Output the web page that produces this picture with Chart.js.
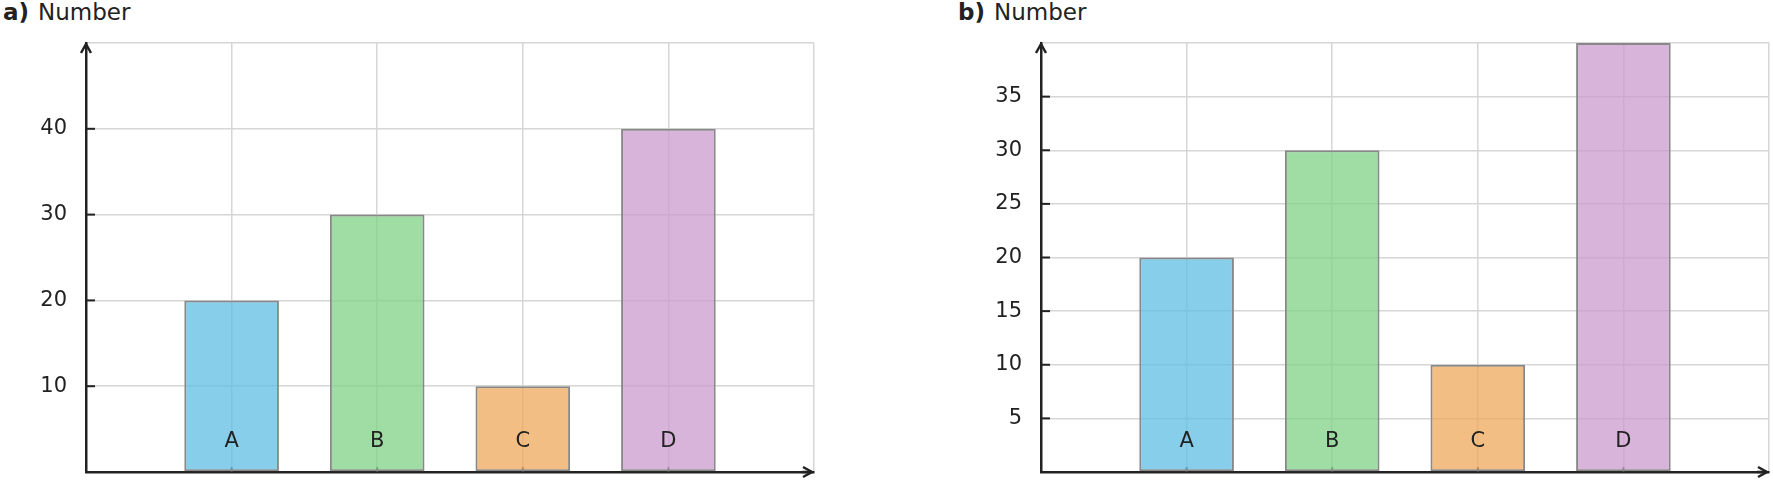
<!DOCTYPE html>
<html>
<head>
<meta charset="utf-8">
<script src="https://cdn.jsdelivr.net/npm/chart.js@4.4.1/dist/chart.umd.min.js"></script>
<style>
  html, body { margin: 0; padding: 0; background: #fff; }
  body { width: 1773px; height: 480px; position: relative; overflow: hidden; font-family: 'DejaVu Sans', sans-serif; color: #222; }
  .title { position: absolute; top: 1px; font-size: 23px; line-height: 23px; white-space: nowrap; }
  .title b { font-weight: bold; margin-right: 9px; }
  canvas { position: absolute; top: 0; }
</style>
</head>
<body>
<div class="title" style="left:3px"><b>a)</b>Number</div>
<div class="title" style="left:958px"><b>b)</b>Number</div>
<canvas id="ca" width="820" height="480" style="left:0px"></canvas>
<canvas id="cb" width="818" height="480" style="left:955px"></canvas>
<script>
// ---- data ----
const categories = ['A', 'B', 'C', 'D'];
const valuesA = [20, 30, 10, 40];
const valuesB = [20, 30, 10, 40];
const yMaxA = 50, yStepA = 10;
const yMaxB = 40, yStepB = 5;
const barColors = ['rgba(95,190,228,0.75)', 'rgba(128,210,135,0.75)', 'rgba(239,168,90,0.75)', 'rgba(203,155,207,0.75)'];

Chart.defaults.font.family = "'DejaVu Sans', sans-serif";
Chart.defaults.color = '#222';

const AX = '#222';

const axisDecor = {
  id: 'axisDecor',
  beforeDatasetsDraw(chart) {
    const { ctx, scales: { x, y } } = chart;
    ctx.save();
    ctx.strokeStyle = '#444';
    ctx.lineWidth = 2;
    categories.forEach((c, i) => {
      const px = x.getPixelForValue(i);
      ctx.beginPath();
      ctx.moveTo(px, y.bottom);
      ctx.lineTo(px, y.bottom - 5);
      ctx.stroke();
    });
    ctx.restore();
  },
  afterDatasetsDraw(chart) {
    const { ctx, scales: { x, y } } = chart;
    ctx.save();
    // inward y tick marks
    ctx.strokeStyle = AX;
    ctx.lineWidth = 2;
    y.ticks.forEach(t => {
      if (t.value <= y.min || t.value >= y.max) return;
      const py = y.getPixelForValue(t.value);
      ctx.beginPath();
      ctx.moveTo(x.left, py);
      ctx.lineTo(x.left + 9, py);
      ctx.stroke();
    });
    // category labels inside the plot
    ctx.fillStyle = '#222';
    ctx.font = "21px 'DejaVu Sans'";
    ctx.textAlign = 'center';
    ctx.textBaseline = 'middle';
    categories.forEach((c, i) => {
      ctx.fillText(c, x.getPixelForValue(i), y.bottom - 30);
    });
    // arrows
    ctx.lineWidth = 2.5;
    ctx.lineCap = 'butt';
    ctx.lineJoin = 'miter';
    ctx.beginPath();
    ctx.moveTo(x.left - 5, y.top + 10);
    ctx.lineTo(x.left, y.top + 1);
    ctx.lineTo(x.left + 5, y.top + 10);
    ctx.stroke();
    ctx.beginPath();
    ctx.moveTo(x.right - 11, y.bottom - 5);
    ctx.lineTo(x.right - 2, y.bottom);
    ctx.lineTo(x.right - 11, y.bottom + 5);
    ctx.stroke();
    ctx.beginPath();
    ctx.moveTo(x.right - 12, y.bottom);
    ctx.lineTo(x.right - 2, y.bottom);
    ctx.stroke();
    ctx.restore();
  }
};

function makeChart(id, values, yMax, yStep, padRight) {
  return new Chart(document.getElementById(id), {
    type: 'bar',
    data: {
      datasets: [{
        data: values.map((v, i) => ({ x: i, y: v })),
        backgroundColor: barColors,
        borderColor: '#888',
        borderWidth: 2,
        borderSkipped: false,
        barPercentage: 0.65,
        categoryPercentage: 1.0
      }]
    },
    options: {
      responsive: false,
      animation: false,
      devicePixelRatio: 1,
      layout: { padding: { top: 43, right: padRight, bottom: 0, left: 0 } },
      plugins: { legend: { display: false }, tooltip: { enabled: false } },
      scales: {
        x: {
          type: 'linear',
          min: -1,
          max: categories.length,
          offset: false,
          ticks: { display: false, stepSize: 1 },
          grid: { color: '#d6d6d6', lineWidth: 1.5, drawTicks: false, offset: false },
          border: { display: true, color: AX, width: 2.5 },
          afterFit(s) { s.height = 8; s.paddingLeft = 0; s.paddingRight = 0; }
        },
        y: {
          min: 0,
          max: yMax,
          ticks: {
            stepSize: yStep,
            padding: 19,
            font: { size: 21 },
            color: '#222',
            callback: (v) => (v <= 0 || v >= yMax) ? '' : String(v)
          },
          grid: { color: '#d6d6d6', lineWidth: 1.5, drawTicks: false },
          border: { display: true, color: AX, width: 2.5 },
          afterFit(s) { s.width = 86; s.paddingTop = 0; s.paddingBottom = 0; }
        }
      }
    },
    plugins: [axisDecor]
  });
}

makeChart('ca', valuesA, yMaxA, yStepA, 6);
makeChart('cb', valuesB, yMaxB, yStepB, 4);
</script>
</body>
</html>
